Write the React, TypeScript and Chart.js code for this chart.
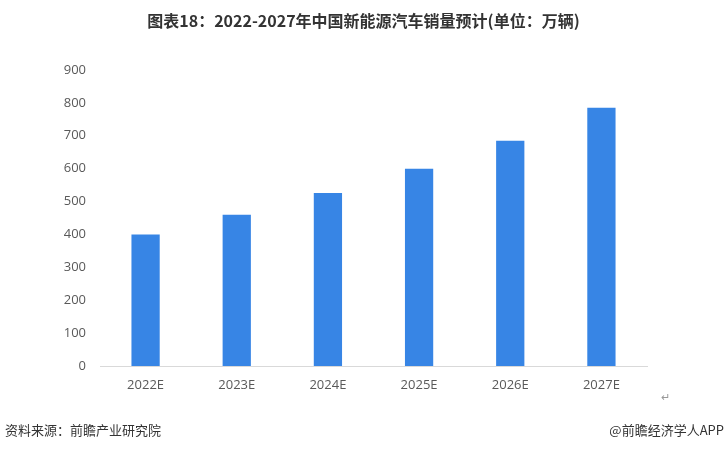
import React, { useEffect, useRef } from "react";
import { Chart, registerables } from "chart.js";

Chart.register(...registerables);

const categories = ["2022E", "2023E", "2024E", "2025E", "2026E", "2027E"];
const sales = [400, 460, 526, 600, 685, 785];
const yTicks = [0, 100, 200, 300, 400, 500, 600, 700, 800, 900];

const titleText = "图表18：2022-2027年中国新能源汽车销量预计(单位：万辆)";
const sourceText = "资料来源：前瞻产业研究院";
const creditText = "@前瞻经济学人APP";

export default function App() {
  const ref = useRef<HTMLCanvasElement | null>(null);

  useEffect(() => {
    document.body.style.margin = "0";
    const ctx = ref.current;
    if (!ctx) return;
    const chart = new Chart(ctx, {
      type: "bar",
      data: {
        labels: categories,
        datasets: [
          {
            data: sales,
            backgroundColor: "#3785E5",
            barPercentage: 0.31,
            categoryPercentage: 1,
          },
        ],
      },
      options: {
        animation: false,
        responsive: false,
        maintainAspectRatio: false,
        layout: { padding: { top: 70, right: 80, left: 0, bottom: 0 } },
        plugins: {
          legend: { display: false },
          tooltip: { enabled: false },
          title: { display: false },
        },
        scales: {
          x: {
            grid: { display: false, drawTicks: false },
            border: { display: true, color: "#D9D9D9", width: 1 },
            ticks: {
              color: "#595959",
              font: { family: "'Open Sans', 'Noto Sans'", size: 13 },
              padding: 11,
            },
            afterFit: (s: any) => {
              s.height = 84;
            },
          },
          y: {
            min: 0,
            max: 900,
            afterBuildTicks: (s: any) => {
              s.ticks = yTicks.map((v) => ({ value: v }));
            },
            grid: { display: false, drawTicks: false },
            border: { display: false },
            ticks: {
              color: "#595959",
              font: { family: "'Open Sans', 'Noto Sans'", size: 13 },
              padding: 14,
            },
            afterFit: (s: any) => {
              s.width = 100;
            },
          },
        },
      },
    });
    return () => chart.destroy();
  }, []);

  return (
    <div
      style={{
        position: "relative",
        width: 727,
        height: 450,
        background: "#fff",
        overflow: "hidden",
        fontFamily: "'Noto Sans CJK SC', 'Noto Sans', sans-serif",
      }}
    >
      <canvas
        ref={ref}
        width={727}
        height={450}
        style={{ position: "absolute", left: 0, top: 0, width: 727, height: 450 }}
      />
      <div
        style={{
          position: "absolute",
          top: 9,
          left: 0,
          width: 727,
          textAlign: "center",
          fontSize: 16,
          fontWeight: 700,
          color: "#333",
          lineHeight: "22px",
        }}
      >
        {titleText}
      </div>
      <div
        style={{
          position: "absolute",
          left: 661,
          top: 388,
          fontSize: 11,
          color: "#999",
        }}
      >
        ↵
      </div>
      <div
        style={{
          position: "absolute",
          left: 5,
          top: 420,
          fontSize: 13,
          color: "#333",
          lineHeight: "20px",
        }}
      >
        {sourceText}
      </div>
      <div
        style={{
          position: "absolute",
          right: 3,
          top: 420,
          fontSize: 13,
          color: "#333",
          lineHeight: "20px",
        }}
      >
        {creditText}
      </div>
    </div>
  );
}
